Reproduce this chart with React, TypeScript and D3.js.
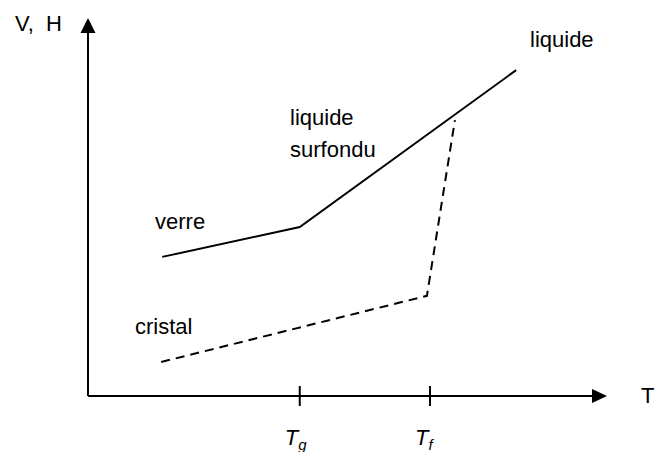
import React from "react";
import * as d3 from "d3";

const W = 655;
const H = 452;

// Glass (verre -> liquide surfondu -> liquide), solid line
const glassT = [14.3, 40.8, 82.5];
const glassV = [36.8, 44.7, 86.2];
// Crystal (cristal -> melting at Tf), dashed line
const crystalT = [14.1, 65.3, 70.7];
const crystalV = [9.0, 26.5, 73.0];
// Tick positions on T axis
const tickT = [40.8, 65.9];
const tickLabels = ["g", "f"];

const x = d3.scaleLinear().domain([0, 100]).range([88, 607]);
const y = d3.scaleLinear().domain([0, 100]).range([396, 18]);

export default function App() {
  const line = d3
    .line<[number, number]>()
    .x((d) => x(d[0]))
    .y((d) => y(d[1]));
  const glass = glassT.map((t, i) => [t, glassV[i]] as [number, number]);
  const crystal = crystalT.map((t, i) => [t, crystalV[i]] as [number, number]);
  const x0 = x(0);
  const y0 = y(0);
  const xEnd = x(100);
  const yEnd = y(100);
  const font = "Liberation Sans, Arial, sans-serif";
  const fs = 22;
  return (
    <svg
      width={W}
      height={H}
      style={{ position: "absolute", left: 0, top: 0, background: "#fff" }}
      fontFamily={font}
      fontSize={fs}
    >
      {/* axes */}
      <line x1={x0} y1={y0} x2={x0} y2={yEnd + 12} stroke="#000" strokeWidth={2} />
      <path d={`M${x0},${yEnd} L${x0 - 7.5},${yEnd + 15} L${x0 + 7.5},${yEnd + 15} Z`} fill="#000" />
      <line x1={x0} y1={y0} x2={xEnd - 12} y2={y0} stroke="#000" strokeWidth={2} />
      <path d={`M${xEnd},${y0} L${xEnd - 15},${y0 - 7} L${xEnd - 15},${y0 + 7} Z`} fill="#000" />
      {tickT.map((t, i) => (
        <g key={i}>
          <line x1={x(t)} x2={x(t)} y1={y0 - 10} y2={y0 + 10} stroke="#000" strokeWidth={2} />
          <text x={x(t) - 15} y={y0 + 49} fontStyle="italic">
            T
            <tspan fontSize={15} dy={5}>{tickLabels[i]}</tspan>
          </text>
        </g>
      ))}
      <path d={line(glass) || ""} fill="none" stroke="#000" strokeWidth={2} />
      <path d={line(crystal) || ""} fill="none" stroke="#000" strokeWidth={2} strokeDasharray="9,6" />
      <text x={15} y={31}>V,&#160;&#160;H</text>
      <text x={641} y={403}>T</text>
      <text x={530} y={47}>liquide</text>
      <text x={290} y={125}>liquide</text>
      <text x={290} y={157}>surfondu</text>
      <text x={155} y={229}>verre</text>
      <text x={135} y={334}>cristal</text>
    </svg>
  );
}
